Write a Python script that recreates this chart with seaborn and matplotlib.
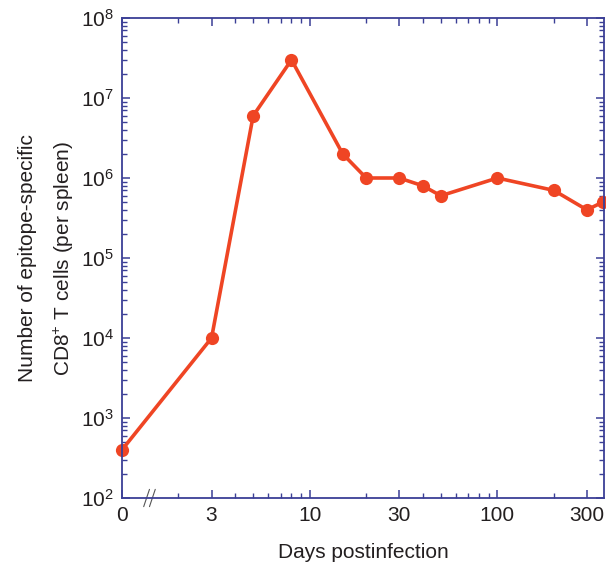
import numpy as np
import pandas as pd
import matplotlib
matplotlib.use("Agg")
import matplotlib.pyplot as plt
import matplotlib.ticker as mticker
import seaborn as sns

# day 0 is drawn at position 1 on the log axis
days = [1, 3, 5, 8, 15, 20, 30, 40, 50, 100, 200, 300, 365]
cells = [4e2, 1e4, 6e6, 3e7, 2e6, 1e6, 1e6, 8e5, 6e5, 1e6, 7e5, 4e5, 5e5]
xtick_pos = [1, 3, 10, 30, 100, 300]
xtick_labels = ["0", "3", "10", "30", "100", "300"]
ytick_pos = [1e2, 1e3, 1e4, 1e5, 1e6, 1e7, 1e8]

df = pd.DataFrame({"day": days, "cells": cells})

sns.set_style("ticks")
plt.rcParams["font.family"] = ["Liberation Sans", "DejaVu Sans"]
plt.rcParams["mathtext.fontset"] = "custom"
plt.rcParams["mathtext.rm"] = "Liberation Sans"

axis_col = "#3b3f96"
line_col = "#ef4524"
text_col = "#231f20"

fig = plt.figure(figsize=(6.06, 5.65), dpi=100)
ax = fig.add_axes([122 / 606, 1 - 498 / 565, (604 - 122) / 606, (498 - 18) / 565])

sns.lineplot(data=df, x="day", y="cells", ax=ax, color=line_col, linewidth=2.6,
             marker="o", markersize=9.5, markeredgewidth=0, clip_on=False)

ax.set_xscale("log")
ax.set_yscale("log")
ax.set_xlim(1, 370)
ax.set_ylim(1e2, 1e8)

ax.xaxis.set_major_locator(mticker.FixedLocator(xtick_pos))
ax.xaxis.set_major_formatter(mticker.FixedFormatter(xtick_labels))
minor_x = [2, 4, 5, 6, 7, 8, 9, 20, 40, 50, 60, 70, 80, 90, 200]
ax.xaxis.set_minor_locator(mticker.FixedLocator(minor_x))
ax.xaxis.set_minor_formatter(mticker.NullFormatter())

ax.yaxis.set_major_locator(mticker.FixedLocator(ytick_pos))
ax.yaxis.set_major_formatter(mticker.LogFormatterSciNotation())
ax.yaxis.set_minor_locator(mticker.LogLocator(base=10, subs=np.arange(2, 10), numticks=20))
ax.yaxis.set_minor_formatter(mticker.NullFormatter())

for s in ax.spines.values():
    s.set_color(axis_col)
    s.set_linewidth(1.3)
ax.tick_params(which="both", direction="in", top=True, right=True, colors=axis_col,
               labelcolor=text_col, labelsize=15)
ax.tick_params(which="major", length=6, width=1.1, pad=6)
ax.tick_params(which="minor", length=3.5, width=1.0)

ax.set_xlabel("Days postinfection", fontsize=15, color=text_col, labelpad=13)
ax.set_ylabel("Number of epitope-specific\nCD8$^{+}$ T cells (per spleen)", fontsize=15,
              color=text_col, labelpad=3, linespacing=1.75)

# axis break marks
for dx in (0.0, 0.012):
    ax.plot([0.045 + dx, 0.057 + dx], [-0.018, 0.018], transform=ax.transAxes,
            color="#555555", linewidth=0.8, clip_on=False)

fig.savefig("out.png", dpi=100)
